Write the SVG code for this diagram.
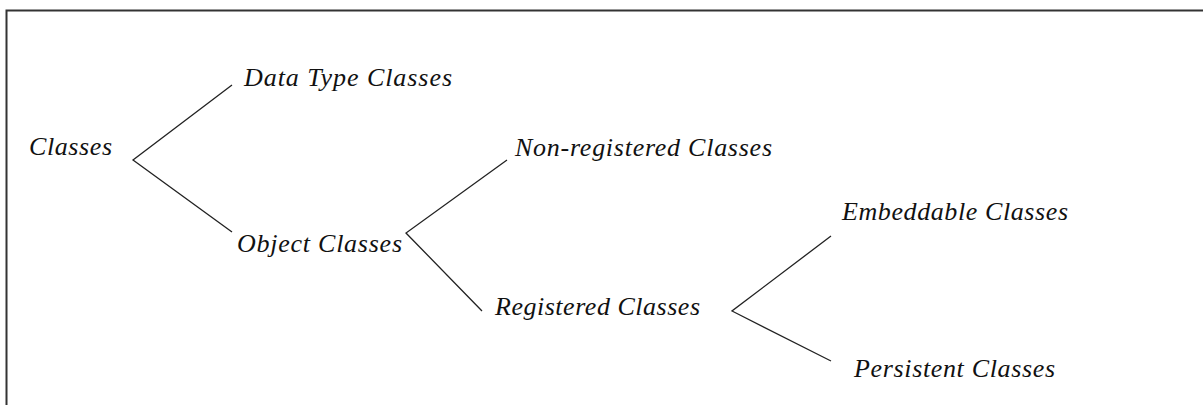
<svg xmlns="http://www.w3.org/2000/svg" width="1203" height="405" viewBox="0 0 1203 405">
  <style>
    .lbl { font-family: "Liberation Serif", "Times New Roman", serif; font-style: italic; font-size: 26px; fill: #111; }
    .edge { stroke: #222; stroke-width: 1.3; fill: none; }
  </style>
  <rect x="0" y="0" width="1203" height="405" fill="#ffffff"/>
  <!-- outer frame, running past the right and bottom edges -->
  <rect x="6.5" y="10.5" width="1210" height="410" fill="none" stroke="#333" stroke-width="2"/>

  <g id="connectors">
    <polyline class="edge" points="232,85 133,160 232,232"/>
    <polyline class="edge" points="507,160 406,233 482,311"/>
    <polyline class="edge" points="831,236 732,311 831,361"/>
  </g>

  <g id="classes"><text class="lbl" x="29" y="155" textLength="83" lengthAdjust="spacing">Classes</text></g>
  <g id="data-type-classes"><text class="lbl" x="244" y="86" textLength="208" lengthAdjust="spacing">Data Type Classes</text></g>
  <g id="object-classes"><text class="lbl" x="237" y="252" textLength="165" lengthAdjust="spacing">Object Classes</text></g>
  <g id="non-registered-classes"><text class="lbl" x="515" y="156" textLength="257" lengthAdjust="spacing">Non-registered Classes</text></g>
  <g id="registered-classes"><text class="lbl" x="495" y="315" textLength="205" lengthAdjust="spacing">Registered Classes</text></g>
  <g id="embeddable-classes"><text class="lbl" x="842" y="220" textLength="226" lengthAdjust="spacing">Embeddable Classes</text></g>
  <g id="persistent-classes"><text class="lbl" x="854" y="377" textLength="201" lengthAdjust="spacing">Persistent Classes</text></g>
</svg>
